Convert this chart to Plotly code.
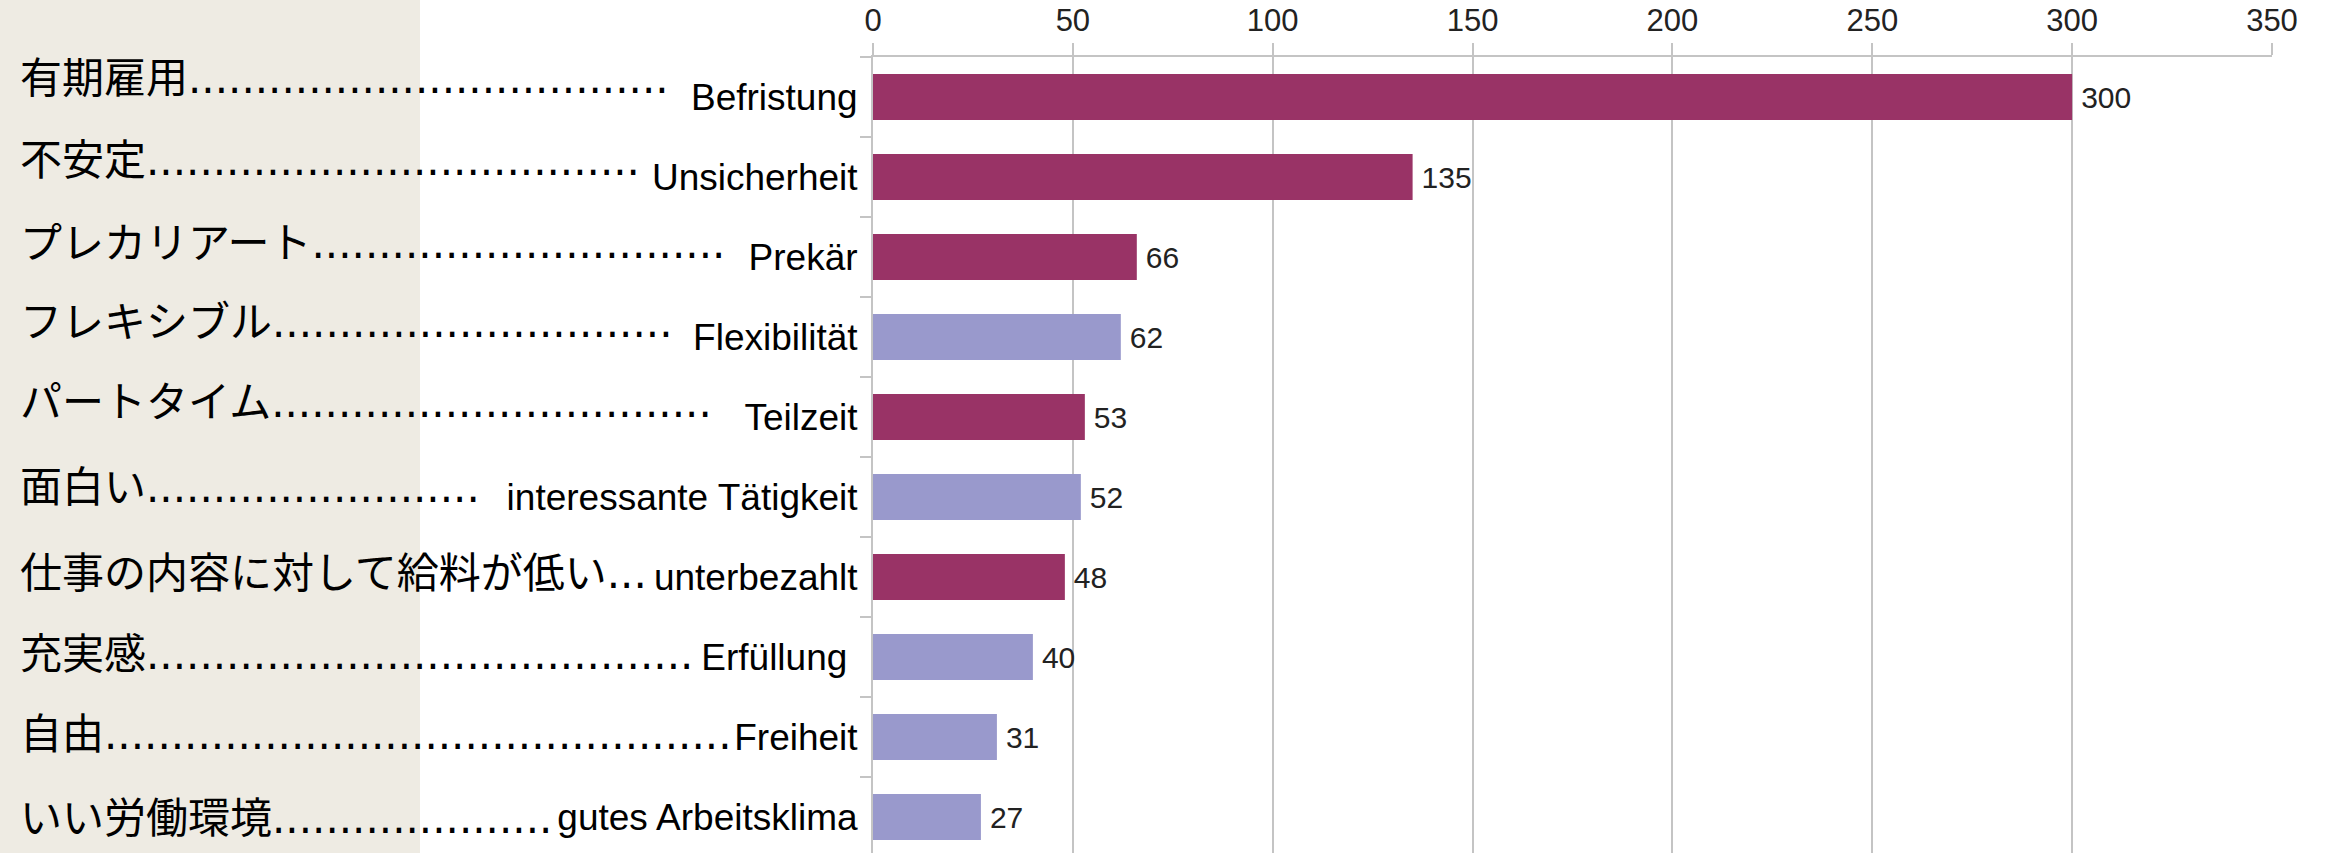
import plotly.graph_objects as go

# ---- data ----
categories_de = ["Befristung", "Unsicherheit", "Prekär", "Flexibilität", "Teilzeit",
                 "interessante Tätigkeit", "unterbezahlt", "Erfüllung\u00a0", "Freiheit",
                 "gutes Arbeitsklima"]
labels_ja = ["有期雇用", "不安定", "プレカリアート", "フレキシブル", "パートタイム",
             "面白い", "仕事の内容に対して給料が低い", "充実感", "自由", "いい労働環境"]
leader_dots = [36, 37, 31, 30, 33, 25, 3, 41, 47, 21]
values = [300, 135, 66, 62, 53, 52, 48, 40, 31, 27]
groups = ["neg", "neg", "neg", "pos", "neg", "pos", "neg", "pos", "pos", "pos"]
x_ticks = [0, 50, 100, 150, 200, 250, 300, 350]

# ---- style ----
W, H = 2328, 853
ML, MR, MT, MB = 873, 56, 57, 0
plot_w = W - ML - MR
group_colors = {"neg": "#993366", "pos": "#9999CC"}
grid_c = "#c4c4c4"
ja_yshift = [19, 17, 14, 15, 15, 10, 4, 3, 3, -1]

fig = go.Figure()
fig.add_trace(go.Bar(
    x=values, y=categories_de, orientation="h",
    width=0.575,
    marker=dict(color=[group_colors[g] for g in groups], line=dict(width=0)),
    text=values, texttemplate="\u2009%{x}", textposition="outside",
    textfont=dict(family="Liberation Sans", size=30, color="#222222"),
    cliponaxis=False, hoverinfo="skip",
))

annotations = []
for i, (ja, nd) in enumerate(zip(labels_ja, leader_dots)):
    annotations.append(dict(
        text=ja + "." * nd, xref="paper", x=(18 - ML) / plot_w, xanchor="left",
        yref="y", y=categories_de[i], yanchor="middle", yshift=ja_yshift[i],
        showarrow=False, align="left",
        font=dict(family="DejaVu Sans, Noto Sans CJK JP", size=42, color="#000000"),
    ))

fig.update_layout(
    width=W, height=H, margin=dict(l=ML, r=MR, t=MT, b=MB, pad=0),
    paper_bgcolor="white", plot_bgcolor="white", showlegend=False,
    annotations=annotations,
    shapes=[dict(type="rect", xref="paper", yref="paper",
                 x0=-ML / plot_w, x1=(420 - ML) / plot_w, y0=-0.1, y1=1.2,
                 fillcolor="#EEEBE3", line=dict(width=0), layer="below")],
    xaxis=dict(side="top", range=[0, 350], tickvals=x_ticks,
               showgrid=True, gridcolor=grid_c, gridwidth=2, zeroline=False,
               ticks="outside", ticklen=12, tickwidth=2, tickcolor=grid_c,
               showline=True, linecolor=grid_c, linewidth=2,
               tickfont=dict(family="Liberation Sans", size=31, color="#222222")),
    yaxis=dict(type="category", categoryorder="array", categoryarray=categories_de,
               range=[9.45, -0.5], showgrid=False, zeroline=False,
               ticks="outside", tickson="boundaries", ticklen=11, tickwidth=2,
               tickcolor=grid_c, showline=True, linecolor=grid_c, linewidth=2,
               ticklabelstandoff=6,
               tickfont=dict(family="Liberation Sans", size=37, color="#000000")),
)

fig.write_html("out.html", config={"displayModeBar": False},
               post_script="document.body.style.margin='0';")
